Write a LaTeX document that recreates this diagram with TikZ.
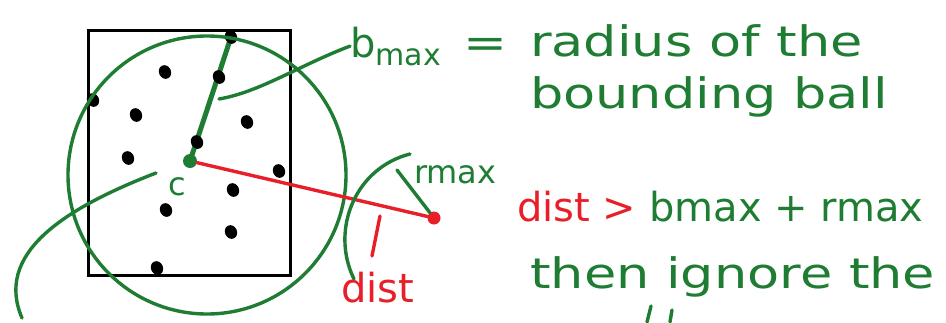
\documentclass[tikz,border=0pt]{standalone}
\usepackage{fontspec}
\usepackage{tikz}
\usetikzlibrary{positioning, calc, shapes.geometric}
\newfontfamily\handfont[FakeStretch=1.25]{DejaVu Sans}
\newfontfamily\handplain{DejaVu Sans}
\definecolor{pengreen}{RGB}{30,125,50}
\definecolor{penred}{RGB}{232,30,40}
\pgfdeclarelayer{back}
\pgfsetlayers{back,main}

\begin{document}
\begin{tikzpicture}[
    x=1pt, y=-1pt,
    pt/.style={ellipse, fill=black, inner sep=0, minimum width=12pt, minimum height=14pt, rotate=25},
    pen/.style={pengreen, line width=3.4pt, line cap=round},
    redpen/.style={penred, line width=3.4pt, line cap=round},
    note/.style={text=pengreen, anchor=base west, inner sep=0, font=\handfont\fontsize{42}{48}\selectfont},
    small/.style={text=pengreen, anchor=base west, inner sep=0, font=\handplain\fontsize{32}{36}\selectfont},
]
\useasboundingbox (0,0) rectangle (946,322);

% the cell and its points
\draw[line width=3pt] (88,30) rectangle (290,275);
\foreach \x/\y/\n in {231/37/1, 219/77/2, 165/72/3, 93/100/4, 136/115/5, 247/122/6, 197/142/7,
                      128/158/8, 279/171/9, 233/190/10, 166/210/11, 231/232/12, 157/268/13}
  \node[pt] (p\n) at (\x,\y) {};

% bounding ball
\node[draw=pengreen, line width=3.4pt, circle, minimum size=278pt, inner sep=0] (ball) at (207,175) {};
\node[circle, fill=pengreen, inner sep=0, minimum size=14pt] (c) at (190,161) {};
\node[small, font=\handplain\fontsize{32}{36}\selectfont] (clabel) at (168,195) {c};
\begin{pgfonlayer}{back}
\draw[pen, line width=5pt] (c.center) .. controls (207,110) .. (p1.center);
\end{pgfonlayer}

% query point
\node[circle, fill=penred, inner sep=0, minimum size=13pt] (q) at (434,218) {};
\draw[redpen] (c) -- (q);
\coordinate (rtip) at (397,170);
\draw[pen] (q) -- (rtip);
\node[small] (rlabel) at (414,183) {rmax};
\coordinate (arctop) at (410,154);
\coordinate (arcend) at (354,279);
\draw[pen] (arctop) .. controls (355,168) and (330,230) .. (arcend);

% dist label
\coordinate (dtop) at (380,216);
\coordinate (dbot) at (372,256);
\draw[redpen] (dtop) -- (dbot);
\node[small, text=penred, font=\handplain\fontsize{40}{44}\selectfont] (dlabel) at (341,302) {dist};

% leaders
\coordinate (bmfoot) at (219,99);
\coordinate (cfoot) at (156,173);
\coordinate (cend) at (22,318);

% text on the right
\node[small, font=\handplain\fontsize{40}{44}\selectfont] (bmax) at (350,57) {b\textsubscript{\fontsize{30}{32}\selectfont max}};
\draw[pen] (bmfoot) .. controls (260,92) and (300,65) .. (bmax.west);
\draw[pen] (cfoot) .. controls (60,210) and (-5,255) .. (cend);
\node[note] (eq) at (463,57) {=};
\node[note] (def1) at (530,56) {radius of the};
\node[note] (def2) at (530,108) {bounding ball};
\node[note, font=\handplain\fontsize{40}{44}\selectfont] (rule1) at (517,221)
  {\textcolor{penred}{dist >} bmax + rmax};
\node[note] (rule2) at (530,288) {then ignore the};

% start of the next line
\coordinate (l1) at (647,322);
\coordinate (l2) at (670,322);
\draw[pen] (l1) -- ++(4,-16);
\draw[pen] (l2) -- ++(2,-12);
\end{tikzpicture}
\end{document}
